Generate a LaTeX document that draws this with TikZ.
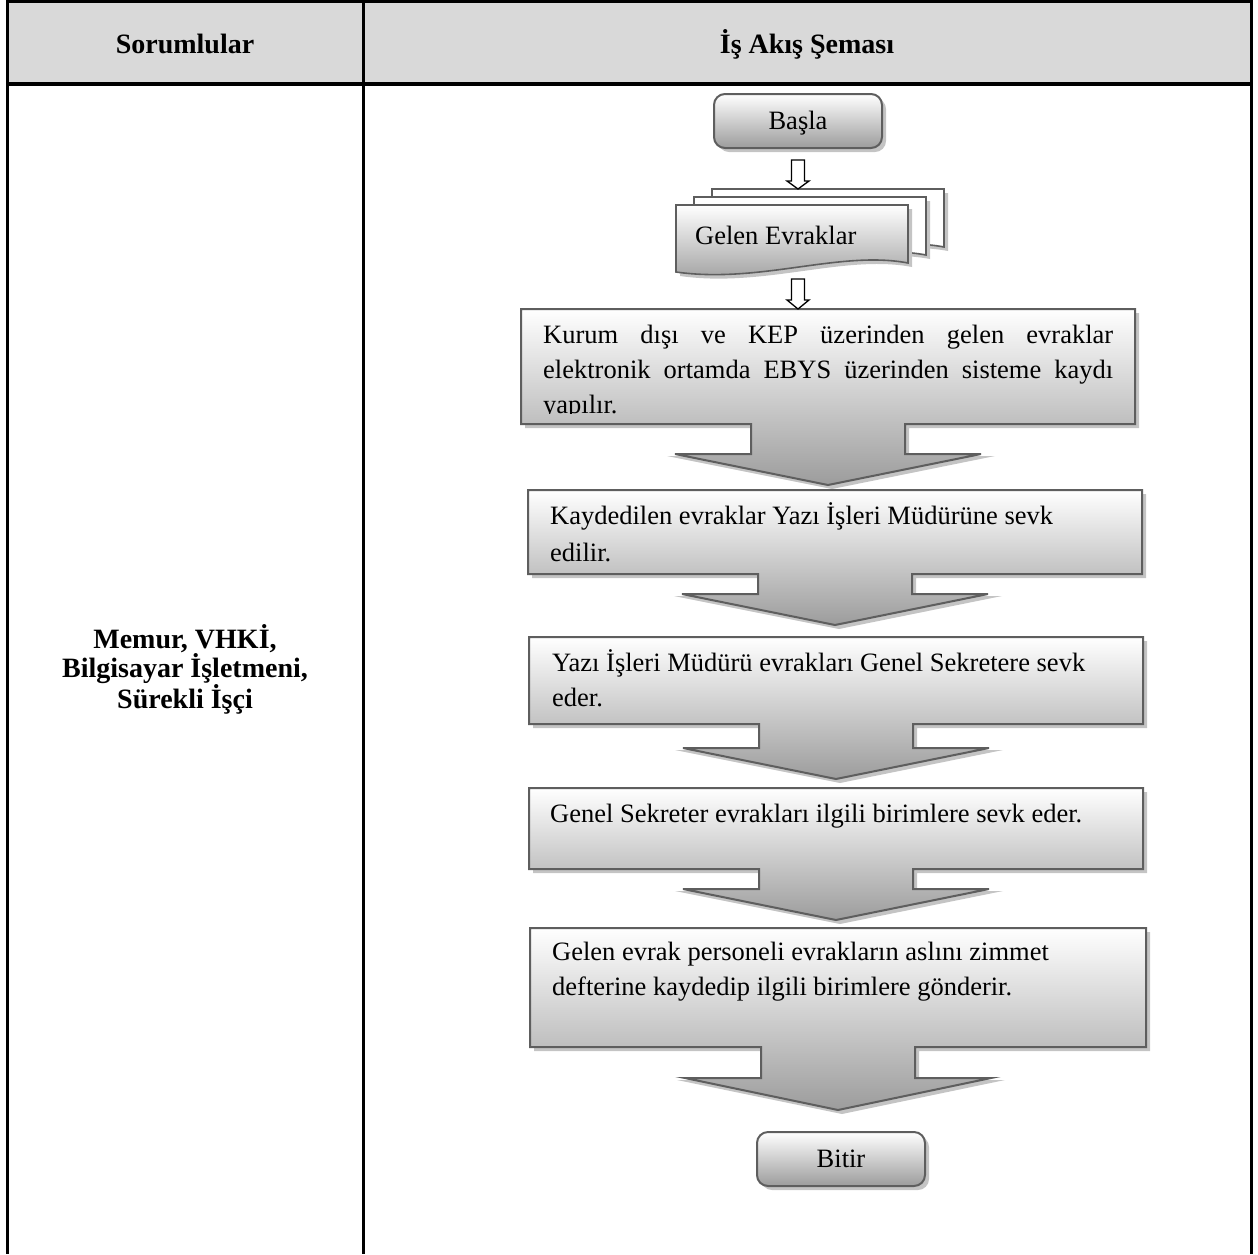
\documentclass[tikz,border=0pt]{standalone}
\usepackage{fontspec}
\setmainfont{Liberation Serif}
\usetikzlibrary{calc,shadows}
\definecolor{hdr}{HTML}{D9D9D9}
\definecolor{edge}{HTML}{5E5E5E}
\definecolor{shd}{HTML}{C4C4C4}
\definecolor{grad}{HTML}{9C9C9C}
\newcommand\bodyfont{\fontsize{26.5}{35}\selectfont}
\newcommand\hdrfont{\fontsize{28}{29}\selectfont\bfseries}
\tikzset{
  boxline/.style={draw=edge, line width=2pt, line join=miter, top color=white, bottom color=grad},
  docback/.style={draw=edge, line width=1.6pt, fill=white},
  docfront/.style={draw=edge, line width=1.6pt, top color=white, bottom color=grad},
  term/.style={draw=edge, line width=2pt, rounded corners=11pt, minimum width=168pt, minimum height=54pt,
    top color=white, bottom color=grad, inner sep=0pt, font=\bodyfont, text height=17.5pt, text depth=0pt,
    drop shadow={shadow xshift=4pt, shadow yshift=-4pt, fill=shd, opacity=1}},
  hollow/.style={draw=black, line width=1.3pt, fill=white, line join=miter},
  tbl/.style={draw=black, line width=3pt},
  body/.style={anchor=base west, inner sep=0pt, font=\bodyfont},
  hdrtext/.style={anchor=base, inner sep=0pt, font=\hdrfont},
}
% #1 name, #2 L, #3 T, #4 R, #5 B, #6 head top, #7 tip
\newcommand\flowbox[7]{%
  \pgfmathsetmacro\fbC{(#2+#4)/2}%
  \pgfmathsetmacro\fbSL{\fbC-77}\pgfmathsetmacro\fbSR{\fbC+77}%
  \pgfmathsetmacro\fbHL{\fbC-153}\pgfmathsetmacro\fbHR{\fbC+153}%
  \pgfmathsetmacro\fbHLs{\fbC-165}\pgfmathsetmacro\fbHRs{\fbC+163}%
  \fill[shd, shift={(4,4)}] (#2,#3) -- (#4,#3) -- (#4,#5) -- (\fbSR,#5) -- (\fbSR,#6-2) -- (\fbHRs,#6-2)
     -- (\fbC,#7) -- (\fbHLs,#6-2) -- (\fbSL,#6-2) -- (\fbSL,#5) -- (#2,#5) -- cycle;
  \path[boxline] (#2,#3) -- (#4,#3) -- (#4,#5) -- (\fbSR,#5) -- (\fbSR,#6) -- (\fbHR,#6)
     -- (\fbC,#7) -- (\fbHL,#6) -- (\fbSL,#6) -- (\fbSL,#5) -- (#2,#5) -- cycle;
  \coordinate (#1n) at (\fbC,#3);
  \coordinate (#1s) at (\fbC,#7);
}
% #1 dx, #2 dy, #3 style
\newcommand\docshape[3]{%
  \fill[shd, shift={(#1+4,#2+4)}] (676,205) -- (908,205) -- (908,263)
     .. controls (840,250) and (760,284) .. (676,272) -- cycle;
  \path[#3, shift={(#1,#2)}] (676,205) -- (908,205) -- (908,263)
     .. controls (840,250) and (760,284) .. (676,272) -- cycle;
}
\begin{document}
\begin{tikzpicture}[x=1pt, y=-1pt]
\useasboundingbox (0,0) rectangle (1258,1254);
% table
\fill[hdr] (7.5,0) rectangle (1251,84);
\draw[tbl] (6,1.5) -- (1252.5,1.5);
\draw[tbl, line width=4pt] (6,84) -- (1252.5,84);
\draw[tbl] (7.5,0) -- (7.5,1254);
\draw[tbl] (363,0) -- (363,1254);
\draw[tbl] (1251,0) -- (1251,1254);
\node[hdrtext] (h1) at (185,53) {Sorumlular};
\node[hdrtext] (h2) at (807,53) {İş Akış Şeması};
\node[anchor=center, align=center, font=\hdrfont, inner sep=0pt] (resp) at (185,669)
  {Memur, VHKİ,\\Bilgisayar İşletmeni,\\Sürekli İşçi};

% start
\node[term] (start) at (798,121) {Başla};

% documents
\docshape{36}{-16}{docback}
\docshape{18}{-8}{docback}
\docshape{0}{0}{docfront}
\coordinate (docB) at (798,189);
\node[body] (gelen) at (695,244) {Gelen Evraklar};

% process boxes
\flowbox{b1}{521}{309}{1135}{424}{454}{485}
\flowbox{b2}{528}{490}{1142}{574}{594}{625}
\flowbox{b3}{529}{637}{1143}{724}{748}{779}
\flowbox{b4}{529}{788}{1143}{869}{889}{920}
\flowbox{b5}{530}{928}{1146}{1047}{1078}{1110}

\begin{scope}
  \clip (521,309) rectangle (1135,413);
  \node[body] (t1) at (543,343) {\parbox[t]{570pt}{%
    \makebox[570pt][s]{Kurum dışı ve KEP üzerinden gelen evraklar}\\
    \makebox[570pt][s]{elektronik ortamda EBYS üzerinden sisteme kaydı}\\
    yapılır.}};
\end{scope}
\node[body] (t2) at (550,524) {\parbox[t]{600pt}{Kaydedilen evraklar Yazı İşleri Müdürüne sevk\\[2pt]edilir.}};
\node[body] (t3) at (552,671) {\parbox[t]{600pt}{Yazı İşleri Müdürü evrakları Genel Sekretere sevk\\eder.}};
\node[body] (t4) at (550,822) {Genel Sekreter evrakları ilgili birimlere sevk eder.};
\node[body] (t5) at (552,960) {\parbox[t]{600pt}{Gelen evrak personeli evrakların aslını zimmet\\defterine kaydedip ilgili birimlere gönderir.}};

% end
\node[term] (stop) at (841,1159) {Bitir};

% hollow arrows
\draw[hollow] ($(start.south)+(-6.5,11)$) -- ($(start.south)+(6.5,11)$) -- ($(start.south)+(6.5,32)$)
  -- ($(start.south)+(11,32)$) -- (start.south |- docB) -- ($(start.south)+(-11,32)$)
  -- ($(start.south)+(-6.5,32)$) -- cycle;
\draw[hollow] ($(start.south |- b1n)+(-6.5,-30)$) -- ($(start.south |- b1n)+(6.5,-30)$)
  -- ($(start.south |- b1n)+(6.5,-9)$) -- ($(start.south |- b1n)+(11,-9)$) -- (start.south |- b1n)
  -- ($(start.south |- b1n)+(-11,-9)$) -- ($(start.south |- b1n)+(-6.5,-9)$) -- cycle;
\end{tikzpicture}
\end{document}
